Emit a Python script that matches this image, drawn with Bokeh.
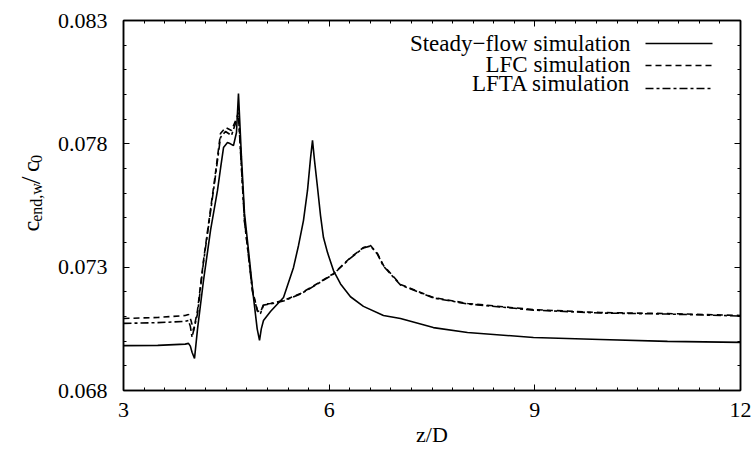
import math
from bokeh.plotting import figure
from bokeh.layouts import row
from bokeh.models import (FixedTicker, LinearAxis, Label, Arrow,
                          PrintfTickFormatter, CustomJSTickFormatter)
from bokeh.embed import file_html
from bokeh.resources import INLINE

# ---------------- data ----------------
steady_x = [3.0, 3.5, 3.9, 3.948, 3.975, 4.0, 4.036, 4.08, 4.167, 4.27, 4.371, 4.42,
            4.459, 4.517, 4.56, 4.604, 4.648, 4.677, 4.72, 4.765, 4.83, 4.896, 4.95,
            4.984, 5.01, 5.042, 5.144, 5.334, 5.48, 5.553, 5.625, 5.684, 5.728, 5.757,
            5.786, 5.83, 5.874, 5.917, 5.976, 6.063, 6.166, 6.311, 6.5, 6.792, 7.04,
            7.52, 8.018, 8.98, 9.957, 10.935, 12.0]
steady_y = [0.06982, 0.06983, 0.06988, 0.06991, 0.06980, 0.06955, 0.06930, 0.07050,
            0.07246, 0.07450, 0.07611, 0.07710, 0.07785, 0.07805, 0.07800, 0.07793,
            0.07846, 0.08004, 0.07750, 0.07518, 0.07350, 0.07177, 0.07050, 0.07003,
            0.07050, 0.07084, 0.07120, 0.07177, 0.07299, 0.07388, 0.07489, 0.07611,
            0.07741, 0.07814, 0.07733, 0.07623, 0.07509, 0.07420, 0.07359, 0.07286,
            0.07232, 0.07180, 0.07141, 0.07104, 0.07092, 0.07055, 0.07035, 0.07015,
            0.07007, 0.06999, 0.06995]

lfc_x = [3.0, 3.5, 3.9, 3.948, 3.985, 4.021, 4.079, 4.167, 4.327, 4.415, 4.488, 4.575,
         4.648, 4.677, 4.765, 4.882, 4.955, 4.998, 5.042, 5.144, 5.334, 5.582, 5.83,
         6.063, 6.311, 6.501, 6.603, 6.705, 6.792, 7.04, 7.522, 8.018, 8.98, 9.957,
         10.935, 12.0]
lfc_y = [0.07092, 0.07096, 0.07104, 0.07108, 0.07084, 0.07043, 0.07124, 0.07327,
         0.07651, 0.07842, 0.07866, 0.07854, 0.07903, 0.07927, 0.07489, 0.07205,
         0.07124, 0.07116, 0.07149, 0.07153, 0.07165, 0.07193, 0.07234, 0.07274,
         0.07339, 0.07380, 0.07388, 0.07355, 0.07307, 0.07230, 0.07177, 0.07153,
         0.07128, 0.07116, 0.07112, 0.07104]

lfta_x = [3.0, 3.5, 3.9, 3.948, 3.975, 4.0, 4.079, 4.167, 4.327, 4.415, 4.488, 4.575,
          4.648, 4.677, 4.765, 4.882, 4.955, 4.998, 5.042, 5.144, 5.334, 5.582, 5.83,
          6.063, 6.311, 6.501, 6.603, 6.705, 6.792, 7.04, 7.522, 8.018, 8.98, 9.957,
          10.935, 12.0]
lfta_y = [0.07072, 0.07075, 0.07080, 0.07084, 0.07060, 0.07016, 0.07110, 0.07320,
          0.07640, 0.07826, 0.07850, 0.07834, 0.07895, 0.07915, 0.07485, 0.07200,
          0.07120, 0.07112, 0.07146, 0.07151, 0.07163, 0.07191, 0.07232, 0.07272,
          0.07337, 0.07378, 0.07386, 0.07352, 0.07304, 0.07228, 0.07175, 0.07151,
          0.07126, 0.07114, 0.07110, 0.07102]

series_names = ["Steady\u2212flow simulation", "LFC simulation", "LFTA simulation"]
x_major = [3, 6, 9, 12]
y_major = [0.068, 0.073, 0.078, 0.083]
x_label = "z/D"
y_label_parts = ["c", "end,w", "/", "c", "0"]

FONT = "Liberation Serif"
H = 454
LAB_W = 50          # narrow panel holding the y-axis title
P_W = 754 - LAB_W

x_minor = [round(3 + 0.3 * i, 2) for i in range(31)]
y_minor = [round(0.068 + 0.001 * i, 4) for i in range(16)]

p = figure(width=P_W, height=H, x_range=(3, 12), y_range=(0.068, 0.083),
           output_backend="svg", toolbar_location=None,
           min_border_left=123 - LAB_W, min_border_right=14, min_border_top=20,
           min_border_bottom=64)
p.xgrid.visible = False
p.ygrid.visible = False
p.outline_line_color = "black"
p.outline_line_width = 1.5
p.background_fill_color = "white"
p.border_fill_color = "white"


def style_axis(ax, labels=True):
    ax.axis_line_color = "black"
    ax.axis_line_width = 1.5
    ax.major_tick_in = 6
    ax.major_tick_out = 0
    ax.minor_tick_in = 3
    ax.minor_tick_out = 0
    ax.major_tick_line_color = "black"
    ax.minor_tick_line_color = "black"
    ax.major_tick_line_width = 1
    ax.minor_tick_line_width = 1
    ax.major_label_text_font = FONT
    ax.major_label_text_font_size = "22px"
    ax.major_label_text_color = "black"
    if not labels:
        ax.formatter = CustomJSTickFormatter(code="return ''")
        ax.major_label_standoff = 0


p.xaxis.ticker = FixedTicker(ticks=x_major, minor_ticks=x_minor)
p.yaxis.ticker = FixedTicker(ticks=y_major, minor_ticks=y_minor)
p.yaxis.formatter = PrintfTickFormatter(format="%.3f")
style_axis(p.xaxis[0])
style_axis(p.yaxis[0])
p.xaxis.major_label_standoff = 12
p.yaxis.major_label_standoff = 16
p.xaxis.axis_label = x_label
p.xaxis.axis_label_text_font = FONT
p.xaxis.axis_label_text_font_size = "22px"
p.xaxis.axis_label_text_font_style = "normal"
p.xaxis.axis_label_text_color = "black"
p.xaxis.axis_label_standoff = 2

top = LinearAxis(ticker=FixedTicker(ticks=x_major, minor_ticks=x_minor))
style_axis(top, labels=False)
p.add_layout(top, "above")
right = LinearAxis(ticker=FixedTicker(ticks=y_major, minor_ticks=y_minor))
style_axis(right, labels=False)
p.add_layout(right, "right")

LW = 1.6
DASH = "6 4"
DASHDOT = "8 3 3 3"

p.line(steady_x, steady_y, line_color="black", line_width=LW)
p.line(lfc_x, lfc_y, line_color="black", line_width=LW, line_dash=DASH)
p.line(lfta_x, lfta_y, line_color="black", line_width=LW, line_dash=DASHDOT)

# ---- legend (text right aligned, sample to the right) ----
leg_text_x = 630 - LAB_W
leg_mid = [43, 64, 83]
leg_line_y = [43, 65, 88]
dashes = ["solid", DASH, DASHDOT]
for name, ym, yl, d in zip(series_names, leg_mid, leg_line_y, dashes):
    p.add_layout(Label(x=leg_text_x, y=ym, x_units="canvas", y_units="canvas",
                       text=name, text_font=FONT, text_font_size="23px",
                       text_align="right", text_baseline="middle",
                       text_color="black"))
    p.add_layout(Arrow(x_start=645 - LAB_W, y_start=yl, x_end=712 - LAB_W, y_end=yl,
                       start_units="canvas", end_units="canvas", end=None,
                       line_color="black", line_width=LW, line_dash=d))

# ---- y-axis title panel: c_{end,w}/c_0 ----
lab = figure(width=LAB_W, height=H, x_range=(0, LAB_W), y_range=(H, 0),
             output_backend="svg", toolbar_location=None, min_border=0)
lab.axis.visible = False
lab.xgrid.visible = False
lab.ygrid.visible = False
lab.outline_line_color = None
lab.background_fill_color = "white"
lab.border_fill_color = "white"

main_x, sub_x = 30, 36
lab_xs = [main_x, sub_x, main_x, main_x, sub_x]
lab_ys = [259, 247, 201, 186, 175]
lab_sizes = ["24px", "16px", "28px", "24px", "16px"]
for t, xx, yy, fs in zip(y_label_parts, lab_xs, lab_ys, lab_sizes):
    lab.text(x=[xx], y=[yy], text=[t], angle=math.pi / 2, text_font=FONT,
             text_font_size=fs, text_align="left", text_baseline="alphabetic",
             text_color="black")

layout = row(lab, p, spacing=0)
open("out.html", "w").write(file_html(layout, INLINE))
